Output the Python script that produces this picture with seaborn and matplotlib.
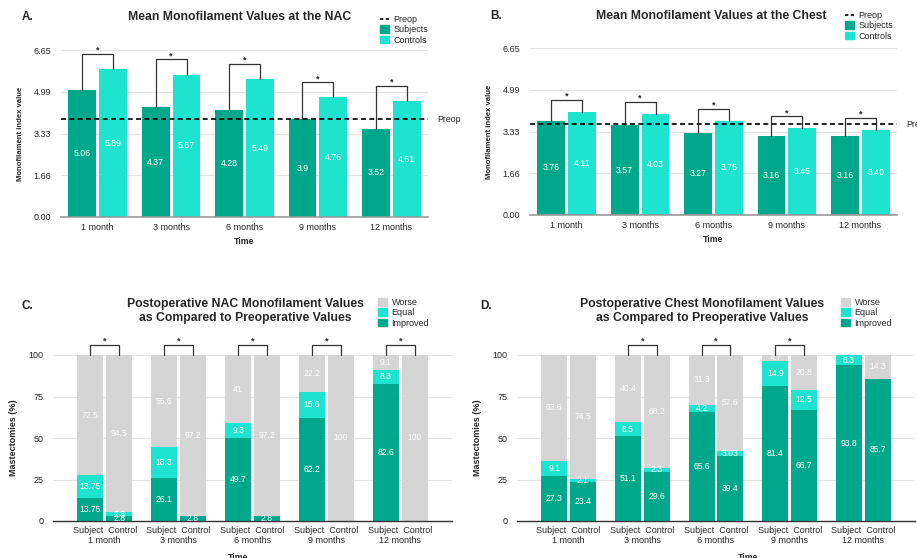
import pandas as pd
import seaborn as sns
import matplotlib.pyplot as plt
from matplotlib.lines import Line2D
from matplotlib.patches import Patch

# ---- data ----
months = ["1 month", "3 months", "6 months", "9 months", "12 months"]

nac_subjects = [5.06, 4.37, 4.28, 3.9, 3.52]
nac_controls = [5.89, 5.67, 5.49, 4.76, 4.61]
nac_preop = 3.9

chest_subjects = [3.76, 3.57, 3.27, 3.16, 3.16]
chest_controls = [4.11, 4.03, 3.75, 3.45, 3.40]
chest_preop = 3.62

index_ticks = [0, 1.6625, 3.325, 4.9875, 6.65]
index_ticklabels = ["0.00", "1.66", "3.33", "4.99", "6.65"]

nac_improved_subj = [13.75, 26.1, 49.7, 62.2, 82.6]
nac_equal_subj = [13.75, 18.3, 9.3, 15.6, 8.3]
nac_worse_subj = [72.5, 55.6, 41, 22.2, 9.1]
nac_improved_ctrl = [2.8, 2.8, 2.8, 0, 0]
nac_equal_ctrl = [2.8, 0, 0, 0, 0]
nac_worse_ctrl = [94.5, 97.2, 97.2, 100, 100]
nac_sig = [True, True, True, True, True]

chest_improved_subj = [27.3, 51.1, 65.6, 81.4, 93.8]
chest_equal_subj = [9.1, 8.5, 4.2, 14.9, 6.3]
chest_worse_subj = [63.6, 40.4, 31.3, 4.7, 0]
chest_improved_ctrl = [23.4, 29.6, 39.4, 66.7, 85.7]
chest_equal_ctrl = [2.1, 2.3, 3.03, 12.5, 0]
chest_worse_ctrl = [74.5, 68.2, 57.6, 20.8, 14.3]
chest_sig = [False, True, True, True, False]

TEAL = "#00A88B"
AQUA = "#1DE3CF"
GREY = "#D5D5D5"
DARK = "#333333"

sns.set_style("white")
plt.rcParams["font.family"] = ["Liberation Sans", "DejaVu Sans"]

W, H = 917, 558
fig = plt.figure(figsize=(W / 100, H / 100), dpi=100)


def px_axes(left, top, right, bottom):
    return fig.add_axes([left / W, 1 - bottom / H, (right - left) / W, (bottom - top) / H])


def mean_panel(ax, subj, ctrl, preop, fmt, offset):
    df = pd.DataFrame({"Time": months * 2,
                       "Group": ["Subjects"] * 5 + ["Controls"] * 5,
                       "Value": subj + ctrl})
    sns.barplot(df, x="Time", y="Value", hue="Group", palette=[TEAL, AQUA],
                saturation=1, width=0.84, gap=0.1, linewidth=0, legend=False, ax=ax)
    for c in ax.containers:
        ax.bar_label(c, fmt=fmt, label_type="center", color="white", fontsize=6.3)
    ax.axhline(preop, color="black", ls=(0, (3, 2)), lw=1.2, zorder=5)
    ax.text(1.025, preop, "Preop", transform=ax.get_yaxis_transform(),
            va="center", ha="left", fontsize=6.3, clip_on=False)
    # significance brackets
    for bs, bc in zip(ax.containers[0], ax.containers[1]):
        xs = bs.get_x() + bs.get_width() / 2
        xc = bc.get_x() + bc.get_width() / 2
        h = max(bs.get_height(), bc.get_height()) + offset
        ax.plot([xs, xs, xc, xc], [bs.get_height(), h, h, bc.get_height()],
                color=DARK, lw=0.9, zorder=4)
        ax.text((xs + xc) / 2, h - 0.05, "*", ha="center", va="bottom",
                fontsize=6.5, fontweight="bold")
    ax.set_ylim(0, 6.65)
    ax.set_xlim(-0.5, 4.5)
    ax.set_yticks(index_ticks, index_ticklabels)
    ax.yaxis.grid(True, color="#E4E4E4", lw=0.8)
    ax.set_axisbelow(True)
    sns.despine(ax=ax, left=True)
    ax.spines["bottom"].set_color("#999999")
    ax.spines["bottom"].set_linewidth(1.2)
    ax.tick_params(axis="y", length=0, pad=7, labelsize=6.5)
    ax.tick_params(axis="x", length=0, pad=4, labelsize=6.5)
    ax.set_ylabel("Monofilament index value", fontsize=5.6, fontweight="bold")
    ax.set_xlabel("Time", fontsize=6.3, fontweight="bold")
    ax.yaxis.set_label_coords(-0.10, 0.5)
    ax.xaxis.set_label_coords(0.5, -0.12)


def stacked_panel(ax, imp_s, eq_s, wo_s, imp_c, eq_c, wo_c, sig, time_x):
    df = pd.DataFrame({"Time": months * 2,
                       "Group": ["Subject"] * 5 + ["Control"] * 5,
                       "Improved": imp_s + imp_c,
                       "Equal": eq_s + eq_c,
                       "Worse": wo_s + wo_c})
    df["top_imp"] = df["Improved"]
    df["top_eq"] = df["top_imp"] + df["Equal"]
    df["top_wo"] = df["top_eq"] + df["Worse"]
    layers = [("top_wo", GREY), ("top_eq", AQUA), ("top_imp", TEAL)]
    for col, color in layers:
        sns.barplot(df, x="Time", y=col, hue="Group", palette=[color, color],
                    saturation=1, width=0.78, gap=0.1, linewidth=0, legend=False, ax=ax)
    segs = [("Worse", "top_eq", "top_wo"), ("Equal", "top_imp", "top_eq"),
            ("Improved", None, "top_imp")]
    for li, (name, lo, hi) in enumerate(segs):
        for gi, grp in enumerate(["Subject", "Control"]):
            sub = df[df["Group"] == grp]
            for bar, (_, row) in zip(ax.containers[2 * li + gi], sub.iterrows()):
                if row[name] <= 0:
                    continue
                y = ((row[lo] if lo else 0) + row[hi]) / 2
                ax.text(bar.get_x() + bar.get_width() / 2, y, f"{row[name]:g}",
                        ha="center", va="center", color="white", fontsize=6.2)
    # brackets
    for bs, bc, s in zip(ax.containers[0], ax.containers[1], sig):
        if not s:
            continue
        xs = bs.get_x() + bs.get_width() / 2
        xc = bc.get_x() + bc.get_width() / 2
        ax.plot([xs, xs, xc, xc], [100, 106, 106, 100], color=DARK, lw=0.9,
                clip_on=False, zorder=4)
        ax.text((xs + xc) / 2, 105.7, "*", ha="center", va="bottom",
                fontsize=6.5, fontweight="bold", clip_on=False)
    ax.set_ylim(0, 100)
    ax.set_xlim(-0.7, 4.7)
    ax.set_yticks([0, 25, 50, 75, 100])
    ax.yaxis.grid(True, color="#E4E4E4", lw=0.8)
    ax.set_axisbelow(True)
    sns.despine(ax=ax, left=True)
    ax.spines["bottom"].set_color(DARK)
    ax.spines["bottom"].set_linewidth(1.0)
    ax.set_xticks(range(5), [f"Subject  Control\n{m}" for m in months])
    for t in ax.get_xticklabels():
        t.set_linespacing(1.1)
    ax.tick_params(axis="x", length=0, pad=3.5, labelsize=6.5)
    ax.tick_params(axis="y", length=0, pad=7, labelsize=6.5)
    ax.set_ylabel("Mastectomies (%)", fontsize=6.5, fontweight="bold")
    ax.set_xlabel("Time", fontsize=6.3, fontweight="bold")
    ax.yaxis.set_label_coords(-0.088, 0.5)
    ax.xaxis.set_label_coords(time_x, -0.19)


axA = px_axes(61, 50, 428, 217)
mean_panel(axA, nac_subjects, nac_controls, nac_preop, "%g", 0.62)
axB = px_axes(530, 48, 897, 215)
mean_panel(axB, chest_subjects, chest_controls, chest_preop, "%.2f", 0.48)
axC = px_axes(53, 355, 452, 521)
stacked_panel(axC, nac_improved_subj, nac_equal_subj, nac_worse_subj,
              nac_improved_ctrl, nac_equal_ctrl, nac_worse_ctrl, nac_sig, 0.464)
axD = px_axes(517, 355, 915, 521)
stacked_panel(axD, chest_improved_subj, chest_equal_subj, chest_worse_subj,
              chest_improved_ctrl, chest_equal_ctrl, chest_worse_ctrl, chest_sig, 0.58)


def ftext(x, y, s, **kw):
    fig.text(x / W, 1 - y / H, s, va="center", **kw)


ftext(22, 17, "A.", fontsize=8.5, fontweight="bold")
ftext(490, 16, "B.", fontsize=8.5, fontweight="bold")
ftext(22, 306, "C.", fontsize=8.5, fontweight="bold")
ftext(480, 306, "D.", fontsize=8.5, fontweight="bold")
ftext(240, 17, "Mean Monofilament Values at the NAC", fontsize=8.8, fontweight="bold", ha="center")
ftext(711, 16, "Mean Monofilament Values at the Chest", fontsize=8.8, fontweight="bold", ha="center")
ftext(245, 311, "Postoperative NAC Monofilament Values\nas Compared to Preoperative Values",
      fontsize=8.8, fontweight="bold", ha="center", linespacing=1.15)
ftext(702, 311, "Postoperative Chest Monofilament Values\nas Compared to Preoperative Values",
      fontsize=8.8, fontweight="bold", ha="center", linespacing=1.15)

mean_handles = [Line2D([0], [0], color="black", ls=(0, (2, 1.5)), lw=1.2),
                Patch(color=TEAL), Patch(color=AQUA)]
mean_labels = ["Preop", "Subjects", "Controls"]
stack_handles = [Patch(color=GREY), Patch(color=AQUA), Patch(color=TEAL)]
stack_labels = ["Worse", "Equal", "Improved"]
leg_kw = dict(loc="upper left", frameon=False, fontsize=6.5, handlelength=1.0,
              handleheight=0.9, handletextpad=0.5, labelspacing=0.15,
              borderpad=0, borderaxespad=0)
fig.legend(mean_handles, mean_labels, bbox_to_anchor=(380 / W, 1 - 15 / H), **leg_kw)
fig.legend(mean_handles, mean_labels, bbox_to_anchor=(845 / W, 1 - 11 / H), **leg_kw)
fig.legend(stack_handles, stack_labels, bbox_to_anchor=(378 / W, 1 - 298 / H), **leg_kw)
fig.legend(stack_handles, stack_labels, bbox_to_anchor=(841 / W, 1 - 298 / H), **leg_kw)

fig.savefig("out.png", dpi=100)
